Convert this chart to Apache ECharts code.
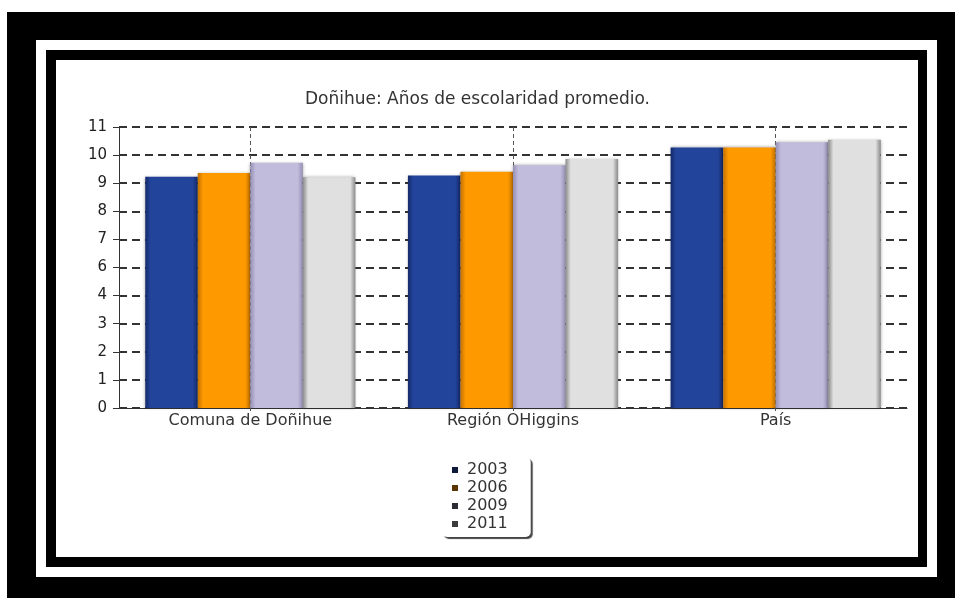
<!DOCTYPE html>
<html>
<head>
<meta charset="utf-8">
<script src="https://cdn.jsdelivr.net/npm/echarts@6/dist/echarts.min.js"></script>
<style>
body { margin: 0; background: #fff; }
.fr { position: absolute; }
#f1 { left: 7px; top: 12px; width: 948px; height: 586px; background: #000; }
#f2 { left: 36px; top: 40px; width: 901px; height: 537px; background: #fff; }
#f3 { left: 46px; top: 50px; width: 881px; height: 517px; background: #000; }
#f4 { left: 56px; top: 60px; width: 862px; height: 497px; background: #fff; }
#chart { position: absolute; left: 0; top: 0; width: 955px; height: 598px; }
</style>
</head>
<body>
<div class="fr" id="f1"></div>
<div class="fr" id="f2"></div>
<div class="fr" id="f3"></div>
<div class="fr" id="f4"></div>
<div id="chart"></div>
<script>
// categorias y valores
var categorias = ['Comuna de Doñihue', 'Región OHiggins', 'País'];
var anios = ['2003', '2006', '2009', '2011'];
var v2003 = [9.05, 9.1, 10.2];
var v2006 = [9.2, 9.25, 10.2];
var v2009 = [9.6, 9.5, 10.4];
var v2011 = [9.03, 9.75, 10.5];

var colores = [
    ['#14296a', '#22449a'],
    ['#c27200', '#ff9900'],
    ['#9590b5', '#c1bcdc'],
    ['#8a8a8a', '#e0e0e0']
];
var coloresLeyenda = ['#0e1838', '#5c3600', '#2c2c34', '#3c3c3c'];

var myChart = echarts.init(document.getElementById('chart'));

//degradado horizontal de las barras
function grad(c) {
    return new echarts.graphic.LinearGradient(0, 0, 1, 0, [
        { offset: 0, color: c[0] },
        { offset: 0.1, color: c[1] },
        { offset: 0.9, color: c[1] },
        { offset: 1, color: c[0] }
    ]);
}

var datos = [v2003, v2006, v2009, v2011];
var series = [];
for (var i = 0; i < anios.length; i++) {
    series.push({
        name: anios[i],
        type: 'bar',
        data: datos[i],
        barGap: 0,
        barCategoryGap: '20%',
        itemStyle: {
            color: grad(colores[i]),
            shadowColor: 'rgba(0,0,0,0.35)',
            shadowBlur: 3
        }
    });
}

var option = {
    animation: false,
    title: {
        text: 'Doñihue: Años de escolaridad promedio.',
        left: 'center',
        top: 86,
        textStyle: { fontFamily: 'DejaVu Sans', fontSize: 17, fontWeight: 'normal', color: '#333' }
    },
    legend: {
        orient: 'vertical',
        left: 442,
        top: 457,
        padding: [5, 23, 5, 10],
        itemGap: 2,
        itemWidth: 6,
        itemHeight: 6,
        icon: 'rect',
        backgroundColor: '#fff',
        borderRadius: 5,
        shadowColor: '#444',
        shadowOffsetX: 2,
        shadowOffsetY: 2,
        shadowBlur: 1,
        textStyle: { fontFamily: 'DejaVu Sans', fontSize: 16, color: '#333', padding: [0, 0, 0, 4] },
        data: anios.map(function (a, i) {
            return { name: a, itemStyle: { color: coloresLeyenda[i] } };
        })
    },
    grid: {
        left: 119,
        right: 48,
        top: 127,
        bottom: 190
    },
    xAxis: {
        type: 'category',
        data: categorias,
        axisLine: { lineStyle: { color: '#333', width: 1 } },
        axisTick: { show: true, alignWithLabel: true, length: 3, lineStyle: { color: '#555' } },
        axisLabel: { margin: 5, fontFamily: 'DejaVu Sans', fontSize: 16, color: '#333' },
        splitLine: {
            show: true,
            alignWithLabel: true,
            lineStyle: { color: '#555', width: 1, type: [4, 3] }
        }
    },
    yAxis: {
        type: 'value',
        min: 0,
        max: 11,
        interval: 1.1,
        axisLine: { show: true, lineStyle: { color: '#333', width: 1 } },
        axisTick: { show: true, length: 6, lineStyle: { color: '#333' } },
        axisLabel: {
            margin: 12,
            fontFamily: 'DejaVu Sans',
            fontSize: 15,
            color: '#222',
            formatter: function (v) { return Math.round(v); }
        },
        splitLine: {
            lineStyle: { color: '#333', width: 2, type: [8, 5] }
        }
    },
    series: series
};

myChart.setOption(option);
</script>
</body>
</html>
